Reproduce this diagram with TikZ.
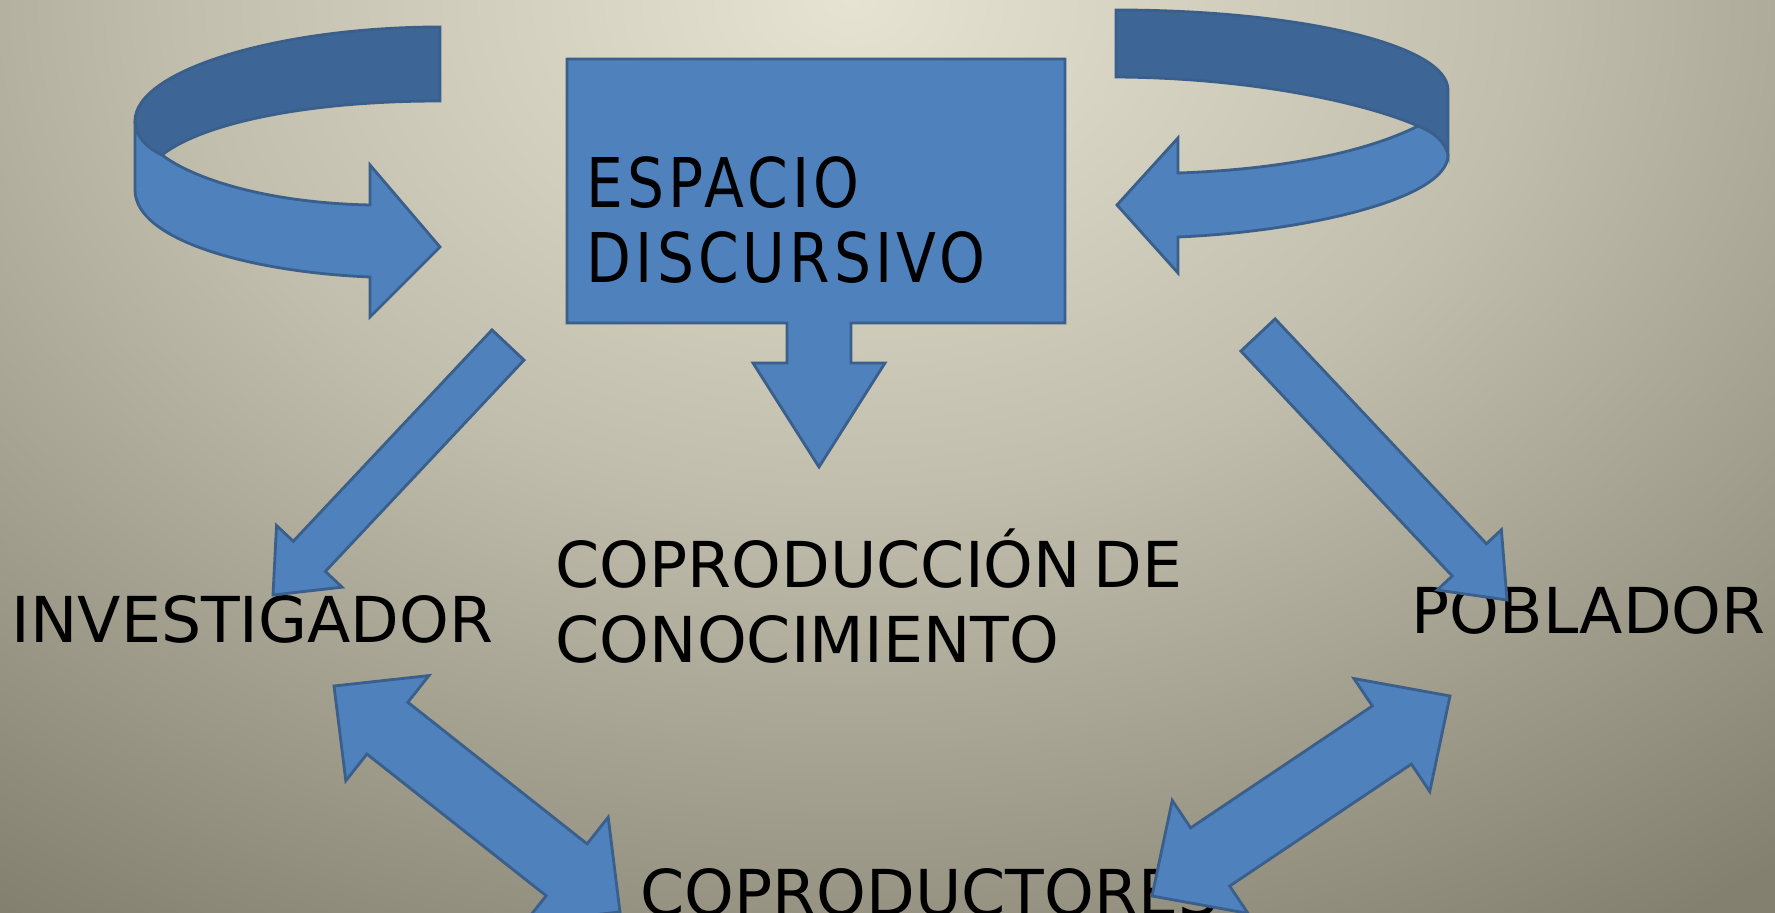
\documentclass[tikz,border=0pt]{standalone}
\usepackage{fontspec}
\setmainfont{DejaVu Sans}
\newfontfamily\policeboite{DejaVu Sans}[FakeStretch=0.85,LetterSpace=6]
\usetikzlibrary{calc}
\definecolor{bleu}{HTML}{4F81BD}
\definecolor{bleufonce}{HTML}{3D6696}
\definecolor{contour}{HTML}{3A5F8B}
\definecolor{fondclair}{HTML}{E6E3D3}
\definecolor{fondmilieu}{HTML}{C2BEAD}
\definecolor{fondsombre}{HTML}{838070}
\pgfdeclareradialshading{fond}{\pgfpoint{0bp}{0bp}}{color(0bp)=(fondclair); color(5.6bp)=(fondmilieu); color(12.5bp)=(fondsombre); color(50bp)=(fondsombre)}
\begin{document}
\begin{tikzpicture}[x=0.01cm,y=-0.01cm]
			\tikzstyle{fleche}=[fill=bleu,draw=contour,line width=0.8pt,line join=miter]
			\tikzstyle{bande}=[fill=bleufonce,draw=contour,line width=0.8pt]
			\tikzstyle{texte}=[anchor=base west,inner sep=0pt,align=left,font=\fontsize{18pt}{21.6pt}\selectfont]
			\tikzstyle{texteboite}=[texte,font=\policeboite\fontsize{19.5pt}{21.6pt}\selectfont]
			\def\FlecheSimple#1#2#3#4#5{% queue, pointe, demi-corps, demi-tete, longueur tete
				\coordinate (#2-base) at ($(#2)!#5!(#1)$) ;
				\draw[fleche] ($(#1)!#3!90:(#2)$) -- ($(#2-base)!#3!90:(#2)$) -- ($(#2-base)!#4!90:(#2)$) -- (#2)
					-- ($(#2-base)!#4!-90:(#2)$) -- ($(#2-base)!#3!-90:(#2)$) -- ($(#1)!#3!-90:(#2)$) -- cycle ;}
			\def\FlecheDouble#1#2#3#4#5{% pointe, pointe, demi-corps, demi-tete, longueur tete
				\coordinate (#1-base) at ($(#1)!#5!(#2)$) ; \coordinate (#2-base) at ($(#2)!#5!(#1)$) ;
				\draw[fleche] (#1) -- ($(#1-base)!#4!90:(#2)$) -- ($(#1-base)!#3!90:(#2)$) -- ($(#2-base)!#3!-90:(#1)$)
					-- ($(#2-base)!#4!-90:(#1)$) -- (#2) -- ($(#2-base)!#4!90:(#1)$) -- ($(#2-base)!#3!90:(#1)$)
					-- ($(#1-base)!#3!-90:(#2)$) -- ($(#1-base)!#4!-90:(#2)$) -- cycle ;}
			\useasboundingbox (0,0) rectangle (1775,913) ;
			\begin{scope}
				\clip (0,0) rectangle (1775,913) ;
				\fill[fondsombre] (0,0) rectangle (1775,913) ;
				\shade[shading=fond] (850,0) ellipse (30cm and 22cm) ;
			\end{scope}
			% textes
			\node[texte] (investigador) at (11,643) {INVESTIGADOR};
			\node[texte] (coproduccion) at (555,663) {COPRODUCCIÓN\hspace{0.2em}DE\\CONOCIMIENTO};
			\node[texte] (poblador) at (1411,634) {POBLADOR};
			\node[texte] (coproductores) at (640,916) {COPRODUCTORES};
			% fleches tournantes
			\draw[bande] (440,27) .. controls (280,27) and (135,70) .. (135,121)
				.. controls (135,135) and (145,147) .. (162,155) .. controls (200,125) and (300,101) .. (440,101) -- cycle ;
			\draw[fleche] (135,121) -- (135,190) .. controls (135,240) and (250,272) .. (370,277) -- (370,317) -- (440,247)
				-- (370,165) -- (370,205) .. controls (270,203) and (195,180) .. (162,155) .. controls (145,147) and (135,135) .. (135,121) -- cycle ;
			\draw[bande] (1116,10) .. controls (1300,10) and (1448,45) .. (1448,90) -- (1448,155)
				.. controls (1445,142) and (1435,133) .. (1418,126) .. controls (1370,105) and (1260,78) .. (1116,77) -- cycle ;
			\draw[fleche] (1418,126) .. controls (1360,155) and (1270,170) .. (1178,173) -- (1178,138) -- (1117,205)
				-- (1178,273) -- (1178,237) .. controls (1300,232) and (1448,200) .. (1448,155) .. controls (1445,142) and (1435,133) .. (1418,126) -- cycle ;
			% fleches droites
			\coordinate (queueG) at (508,345) ; \coordinate (pointeG) at (273,595) ;
			\coordinate (queueD) at (1258,335) ; \coordinate (pointeD) at (1507,600) ;
			\FlecheSimple{queueG}{pointeG}{0.22cm}{0.45cm}{0.53cm}
			\FlecheSimple{queueD}{pointeD}{0.235cm}{0.44cm}{0.55cm}
			\coordinate (inv) at (334,686) ; \coordinate (copG) at (620,912) ;
			\coordinate (copD) at (1152,896) ; \coordinate (pob) at (1450,696) ;
			\FlecheDouble{inv}{copG}{0.33cm}{0.67cm}{0.68cm}
			\FlecheDouble{copD}{pob}{0.35cm}{0.68cm}{0.70cm}
			% espace discursif
			\draw[fleche] (567,59) -- (1065,59) -- (1065,323) -- (851,323) -- (851,363) -- (885,363) -- (819,467)
				-- (753,363) -- (787,363) -- (787,323) -- (567,323) -- cycle ;
			\node[texteboite] (espacio) at (586,283) {ESPACIO\\DISCURSIVO};
		\end{tikzpicture}
\end{document}
